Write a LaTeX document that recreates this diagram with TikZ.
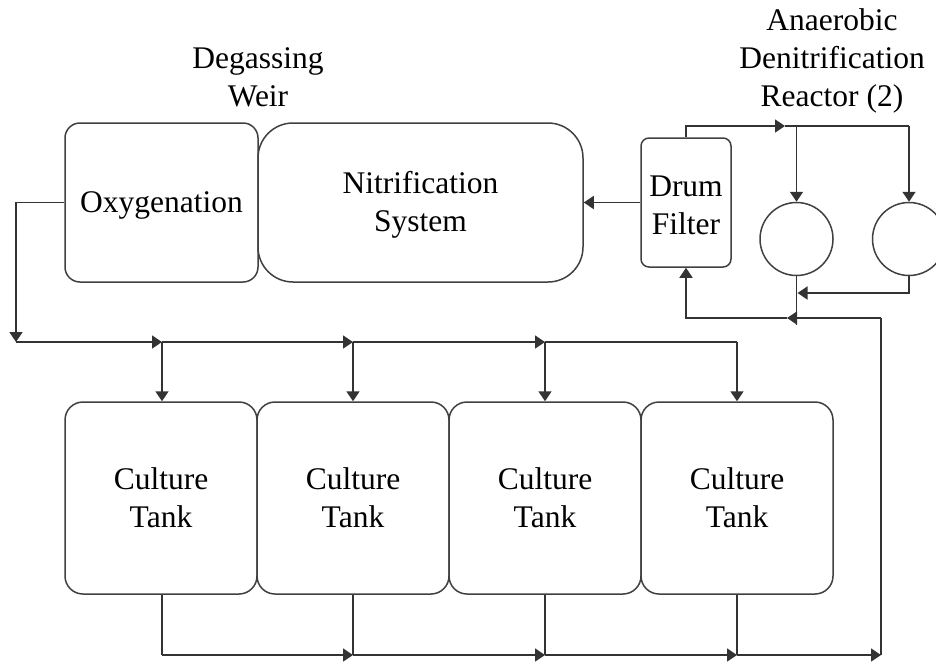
\documentclass[tikz,border=0pt]{standalone}
\usepackage{fontspec}
\setmainfont{Liberation Serif}
\usetikzlibrary{arrows.meta}
\begin{document}
\begin{tikzpicture}[x=1pt,y=-1pt,
  every node/.style={font=\fontsize{31.5}{38}\selectfont, align=center, inner sep=0pt},
  box/.style={draw=black!75, line width=1.5pt, rectangle},
  reactor/.style={draw=black!75, line width=1.5pt, circle, minimum size=73pt},
  lbl/.style={},
  ln/.style={draw=black!80, line width=1.5pt},
  arr/.style={ln, -{Triangle[length=10pt,width=13pt]}}]
\useasboundingbox (0,0) rectangle (936,664);
% top row
\node[box, rounded corners=15pt, minimum width=193pt, minimum height=159pt] (oxy) at (161.5,202.5) {\rule{0pt}{27.5pt}Oxygenation};
\node[box, rounded corners=35pt, minimum width=325pt, minimum height=159pt] (nit) at (420.5,202.5) {\rule{0pt}{27.5pt}Nitrification\\System};
\node[box, rounded corners=8pt, minimum width=90pt, minimum height=129pt] (drum) at (686,202.5) {\rule{0pt}{27pt}Drum\\Filter};
\node[reactor] (r1) at (796.5,239) {};
\node[reactor] (r2) at (909,239) {};
\node[lbl] (weir) at (258,77) {Degassing\\Weir};
\node[lbl] (anae) at (832,61) {Anaerobic\\Denitrification\\Reactor (2)};
% tanks
\node[box, rounded corners=18pt, minimum width=192pt, minimum height=192pt] (t1) at (161,498) {Culture\\Tank};
\node[box, rounded corners=18pt, minimum width=192pt, minimum height=192pt] (t2) at (353,498) {Culture\\Tank};
\node[box, rounded corners=18pt, minimum width=192pt, minimum height=192pt] (t3) at (545,498) {Culture\\Tank};
\node[box, rounded corners=18pt, minimum width=192pt, minimum height=192pt] (t4) at (737,498) {Culture\\Tank};
% coordinates
\coordinate (oL) at (16,202.5);
\coordinate (dA) at (16,342);
\coordinate (d1) at (162,342);
\coordinate (d2) at (353,342);
\coordinate (d3) at (545,342);
\coordinate (d4) at (737,342);
\coordinate (b1) at (162,655);
\coordinate (b2) at (353,655);
\coordinate (b3) at (545,655);
\coordinate (b4) at (737,655);
\coordinate (bR) at (881,655);
\coordinate (rR) at (881,318);
\coordinate (rM) at (787,318);
\coordinate (rL) at (686,318);
\coordinate (tD) at (686,126);
\coordinate (tA) at (785,126);
\coordinate (tR) at (909,126);
\coordinate (j1) at (796.5,126);
\coordinate (c2a) at (909,293);
\coordinate (c2b) at (797.5,293);
\coordinate (c1e) at (796.5,325);
% drum -> nitrification
\draw[arr] (drum.west) -- (nit.east |- drum.west);
% oxygenation -> distribution
\draw[arr] (oxy.west) -- (oL) -- (dA);
\draw[arr] (dA) -- (d1);
\draw[arr] (d1) -- (d2);
\draw[arr] (d2) -- (d3);
\draw[ln] (d3) -- (d4);
\draw[arr] (d1) -- (t1.north -| d1);
\draw[arr] (d2) -- (t2.north -| d2);
\draw[arr] (d3) -- (t3.north -| d3);
\draw[arr] (d4) -- (t4.north -| d4);
% tanks -> return
\draw[ln] (t1.south -| b1) -- (b1);
\draw[ln] (t2.south -| b2) -- (b2);
\draw[ln] (t3.south -| b3) -- (b3);
\draw[ln] (t4.south -| b4) -- (b4);
\draw[arr] (b1) -- (b2);
\draw[arr] (b2) -- (b3);
\draw[arr] (b3) -- (b4);
\draw[arr] (b4) -- (bR);
\draw[ln] (bR) -- (rR);
\draw[arr] (rR) -- (rM);
\draw[arr] (rM) -- (rL) -- (drum.south);
% drum -> reactors
\draw[arr] (drum.north) -- (tD) -- (tA);
\draw[ln] (tA) -- (tR);
\draw[arr] (j1) -- (r1.north);
\draw[arr] (tR) -- (r2.north);
% reactors -> return
\draw[arr] (r2.south) -- (c2a) -- (c2b);
\draw[ln] (r1.south) -- (c1e);
\end{tikzpicture}
\end{document}
